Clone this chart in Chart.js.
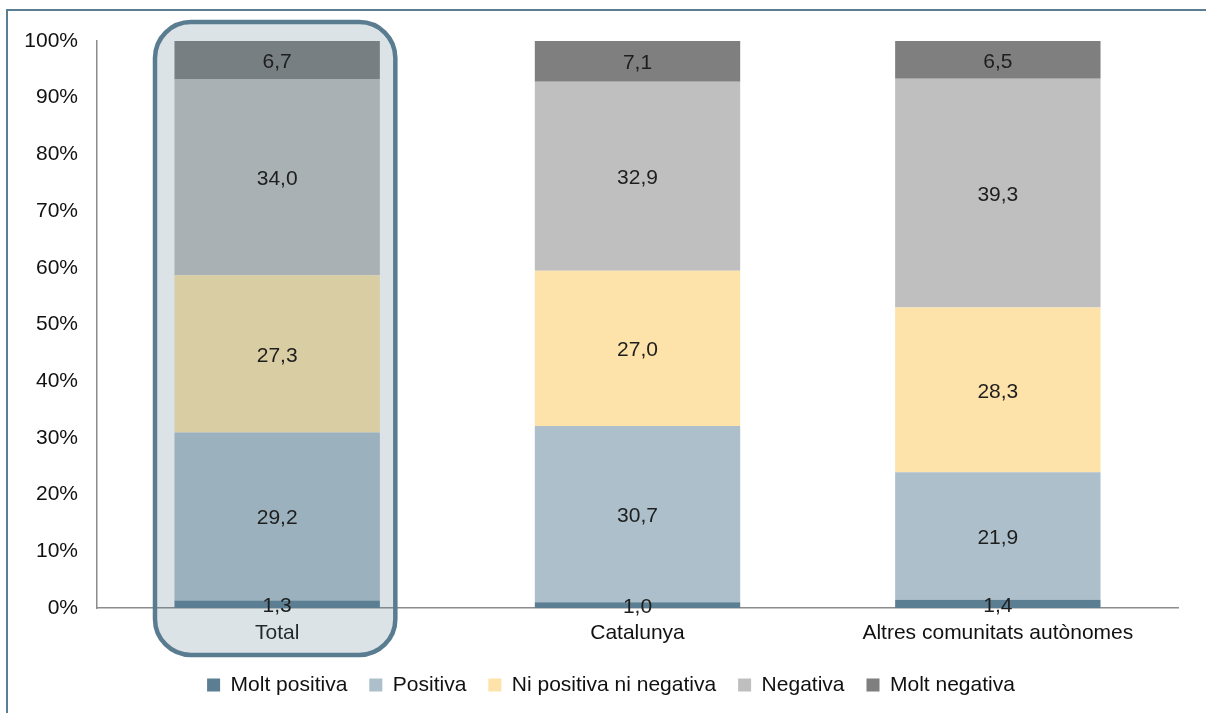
<!DOCTYPE html>
<html><head><meta charset="utf-8">
<script src="https://cdn.jsdelivr.net/npm/chart.js@4.4.0/dist/chart.umd.min.js"></script>
<style>
html,body{margin:0;padding:0;background:#fff;overflow:hidden}
#wrap{position:relative;width:1206px;height:713px}
#frame{position:absolute;left:6px;top:9px;width:1400px;height:900px;border:2px solid #5b7e93;box-sizing:border-box}
canvas{position:absolute;left:0;top:0}
</style></head><body>
<div id="wrap"><div id="frame"></div><canvas id="c" width="1206" height="713"></canvas></div>
<script>
const categories = ['Total', 'Catalunya', 'Altres comunitats autònomes'];
const seriesNames = ['Molt positiva', 'Positiva', 'Ni positiva ni negativa', 'Negativa', 'Molt negativa'];
const moltPositiva = [1.3, 1.0, 1.4];
const positiva = [29.2, 30.7, 21.9];
const niPositivaNiNegativa = [27.3, 27.0, 28.3];
const negativa = [34.0, 32.9, 39.3];
const moltNegativa = [6.7, 7.1, 6.5];
const yTickValues = [0, 10, 20, 30, 40, 50, 60, 70, 80, 90, 100];

const seriesValues = [moltPositiva, positiva, niPositivaNiNegativa, negativa, moltNegativa];
const seriesColors = ['#5b7e93', '#adbfca', '#fde3aa', '#bfbfbf', '#7f7f7f'];
const totals = categories.map((_, i) => seriesValues.reduce((s, arr) => s + arr[i], 0));

const FONT = '"Liberation Sans", Arial, sans-serif';
const FS = 21;

const datasets = seriesNames.map((name, k) => ({
  label: name,
  data: seriesValues[k].map((v, i) => v / totals[i] * 100),
  raw: seriesValues[k],
  backgroundColor: seriesColors[k],
  borderWidth: 0,
  categoryPercentage: 1,
  barPercentage: 0.57
}));

const legendShift = {
  id: 'legendShift',
  afterLayout(chart) {
    if (chart.legend) { chart.legend.left += 14; chart.legend.right += 14; }
  }
};

const highlightPlugin = {
  id: 'highlight',
  afterDatasetsDraw(chart) {
    const ctx = chart.ctx;
    const xs = chart.scales.x, ys = chart.scales.y;
    const cx = xs.getPixelForValue(0) - 2;
    const catW = (xs.right - xs.left) / categories.length;
    const w = catW * 0.667;
    const x0 = cx - w / 2, y0 = ys.top - 19, h = (ys.bottom + 47) - y0;
    ctx.save();
    ctx.beginPath();
    ctx.roundRect(x0, y0, w, h, 36);
    ctx.fillStyle = 'rgba(91,126,147,0.22)';
    ctx.fill();
    ctx.lineWidth = 4.5;
    ctx.strokeStyle = '#5a7c90';
    ctx.stroke();
    ctx.restore();
  }
};

const labelPlugin = {
  id: 'valueLabels',
  afterDatasetsDraw(chart) {
    const ctx = chart.ctx;
    ctx.save();
    ctx.font = FS + 'px ' + FONT;
    ctx.fillStyle = '#1e1e1e';
    ctx.textAlign = 'center';
    ctx.textBaseline = 'middle';
    chart.data.datasets.forEach((ds, k) => {
      const meta = chart.getDatasetMeta(k);
      meta.data.forEach((bar, i) => {
        const y = (bar.y + bar.base) / 2;
        ctx.fillText(ds.raw[i].toFixed(1).replace('.', ','), bar.x, y + 2);
      });
    });
    ctx.restore();
  }
};

new Chart(document.getElementById('c'), {
  type: 'bar',
  data: { labels: categories, datasets },
  options: {
    responsive: false,
    animation: false,
    devicePixelRatio: 1,
    layout: { padding: { left: 16, right: 28, top: 41, bottom: 7.5 } },
    plugins: {
      tooltip: { enabled: false },
      legend: {
        position: 'bottom',
        labels: {
          boxWidth: 13, boxHeight: 13, padding: 22,
          color: '#111', font: { family: FONT, size: FS }
        }
      }
    },
    scales: {
      x: {
        stacked: true,
        grid: { display: false, drawTicks: false },
        border: { display: true, color: '#8c8c8c', width: 1.5 },
        ticks: { color: '#111', font: { family: FONT, size: FS }, padding: 13, maxRotation: 0 },
        afterFit(s) { s.height = 44.5; }
      },
      y: {
        stacked: true,
        min: 0, max: 100,
        afterBuildTicks(s) { s.ticks = yTickValues.map(v => ({ value: v })); },
        grid: { display: false, drawTicks: false },
        border: { display: true, color: '#8c8c8c', width: 1.5 },
        ticks: { color: '#111', font: { family: FONT, size: FS }, padding: 19, callback: v => v + '%' },
        afterFit(s) { s.width = 81; }
      }
    }
  },
  plugins: [legendShift, highlightPlugin, labelPlugin]
});
</script>
</body></html>
